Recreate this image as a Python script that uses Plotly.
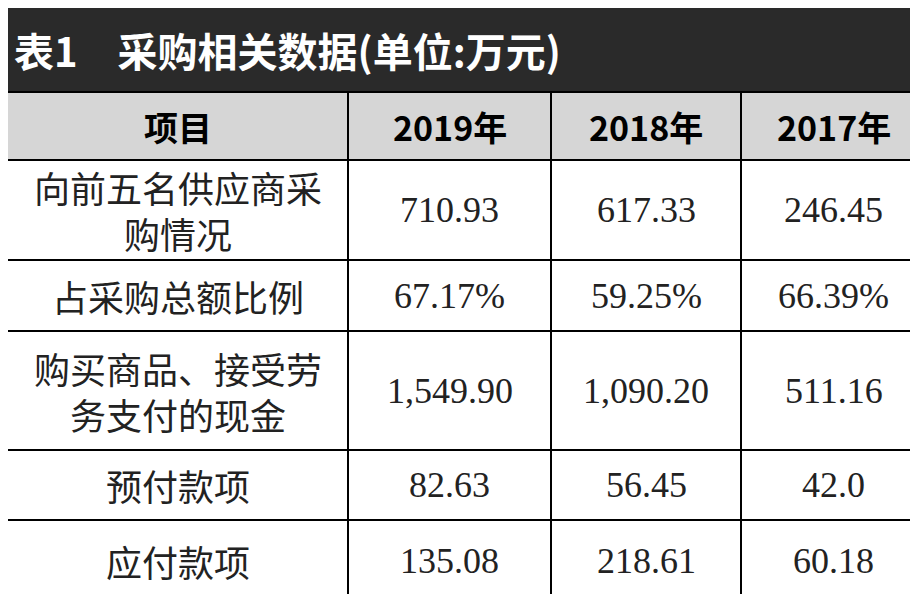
import plotly.graph_objects as go

title = "表1　采购相关数据(单位:万元)"
headers = ["项目", "2019年", "2018年", "2017年"]
items = [["向前五名供应商采", "购情况"], ["占采购总额比例"], ["购买商品、接受劳", "务支付的现金"], ["预付款项"], ["应付款项"]]
v2019 = ["710.93", "67.17%", "1,549.90", "82.63", "135.08"]
v2018 = ["617.33", "59.25%", "1,090.20", "56.45", "218.61"]
v2017 = ["246.45", "66.39%", "511.16", "42.0", "60.18"]

col_edges = [0, 340, 543, 733, 918]
row_edges = [84, 152, 252, 323, 442, 512, 594]

fig = go.Figure()
shapes = [dict(type="rect", x0=0, x1=918, y0=0, y1=84, fillcolor="#2a2a2a", line_width=0, layer="below"),
          dict(type="rect", x0=0, x1=918, y0=row_edges[0], y1=row_edges[1], fillcolor="#d6d6d6", line_width=0, layer="below")]
for y in row_edges:
    shapes.append(dict(type="line", x0=0, x1=918, y0=y, y1=y, line=dict(color="black", width=2)))
for x in col_edges[1:-1]:
    shapes.append(dict(type="line", x0=x, x1=x, y0=row_edges[0], y1=594, line=dict(color="black", width=2)))

ann = [dict(x=4, y=42, text="<b>"+title+"</b>", xanchor="left", showarrow=False,
            font=dict(family="Noto Sans CJK SC", size=40, color="white"))]
for i, h in enumerate(headers):
    ann.append(dict(x=(col_edges[i]+col_edges[i+1])/2, y=(row_edges[0]+row_edges[1])/2, text="<b>"+h+"</b>",
                    showarrow=False, font=dict(family="Noto Sans CJK SC", size=34, color="black")))
for r in range(len(items)):
    y0, y1 = row_edges[r+1], row_edges[r+2]
    yc = (y0+y1)/2
    lines = items[r]
    n = len(lines)
    for k, t in enumerate(lines):
        yl = yc + (k - (n-1)/2) * 46
        ann.append(dict(x=170, y=yl, text=t, showarrow=False,
                        font=dict(family="Noto Sans CJK SC", size=36, color="#222")))
    for c, vals in enumerate([v2019, v2018, v2017]):
        ann.append(dict(x=(col_edges[c+1]+col_edges[c+2])/2, y=yc, text=vals[r], showarrow=False,
                        font=dict(family="Liberation Serif", size=36, color="#222")))

fig.update_layout(width=918, height=594, margin=dict(l=0, r=0, t=0, b=0),
                  plot_bgcolor="white", paper_bgcolor="white", shapes=shapes, annotations=ann,
                  xaxis=dict(range=[0, 918], visible=False, fixedrange=True),
                  yaxis=dict(range=[594, 0], visible=False, fixedrange=True), showlegend=False)
fig.write_html("out.html")
